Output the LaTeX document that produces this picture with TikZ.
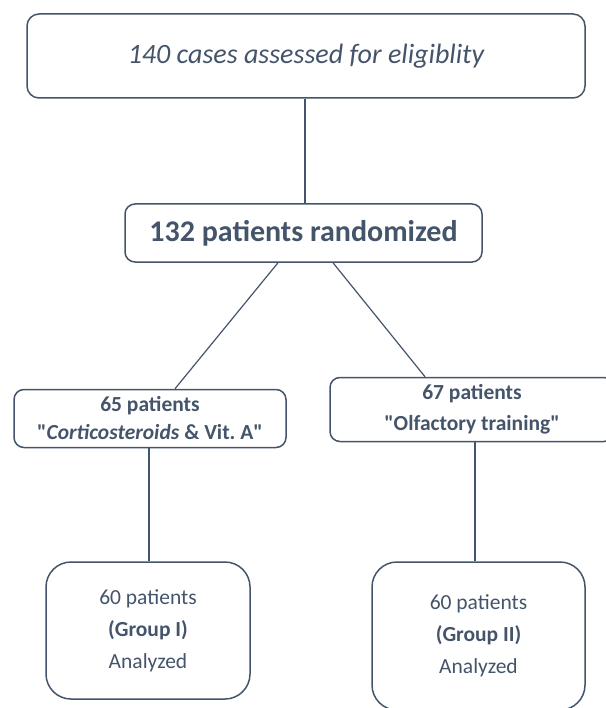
\documentclass[tikz,border=0pt]{standalone}
\usepackage{fontspec}
\setmainfont{Carlito}[Ligatures=TeXOff]
\definecolor{slate}{HTML}{44546A}
\begin{document}
\begin{tikzpicture}[x=1pt,y=1pt,
  box/.style={draw=slate,line width=1.5pt,text=slate,align=center,inner sep=0pt},
  conn/.style={draw=slate,line width=1.2pt}]
\useasboundingbox (0,0) rectangle (605,-708);
\node[box,rounded corners=12pt,minimum width=558pt,minimum height=84pt,
  font=\fontsize{28}{30}\selectfont\itshape] (top) at (306,-56) {140 cases assessed for eligiblity};
\node[box,rounded corners=10pt,minimum width=357pt,minimum height=58pt,
  font=\fontsize{30}{32}\selectfont\bfseries] (mid) at (303.5,-233) {132 patients randomized};
\node[box,rounded corners=10pt,minimum width=272pt,minimum height=58pt,
  font=\fontsize{21.5}{28}\selectfont\bfseries\frenchspacing] (left) at (150,-418.5)
  {65 patients\\"\textit{Corticosteroids} \& Vit. A"};
\node[box,rounded corners=10pt,minimum width=284pt,minimum height=64pt,
  font=\fontsize{21.5}{31}\selectfont\bfseries] (right) at (472,-409.5)
  {67 patients\\"Olfactory training"};
\node[box,rounded corners=25pt,minimum width=204pt,minimum height=137pt,
  font=\fontsize{21.5}{32}\selectfont] (bl) at (148,-630.5)
  {60 patients\\\textbf{(Group I)}\\Analyzed};
\node[box,rounded corners=25pt,minimum width=213pt,minimum height=148pt,
  font=\fontsize{21.5}{32}\selectfont] (br) at (478.5,-636)
  {60 patients\\\textbf{(Group II)}\\Analyzed};
\draw[conn] ([xshift=-1pt]top.south) -- ([xshift=1.5pt]mid.north);
\draw[conn] ([xshift=-25.5pt]mid.south) -- ([xshift=25pt]left.north);
\draw[conn] ([xshift=29.5pt]mid.south) -- ([xshift=-47pt]right.north);
\draw[conn] ([xshift=-1pt]left.south) -- ([xshift=1pt]bl.north);
\draw[conn] ([xshift=3pt]right.south) -- ([xshift=-3.5pt]br.north);
\end{tikzpicture}
\end{document}
